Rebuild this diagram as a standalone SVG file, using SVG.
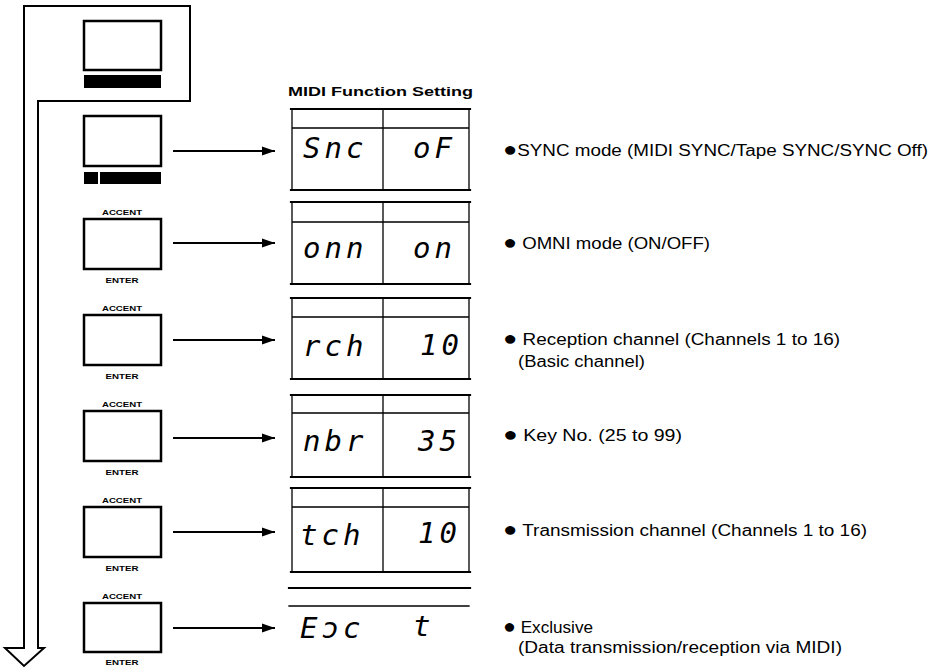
<svg xmlns="http://www.w3.org/2000/svg" width="937" height="668" viewBox="0 0 937 668">
<style>
.ln{fill:none;stroke:#000;stroke-linecap:square}
.key{fill:#fff;stroke:#000;stroke-width:2.5}
.bar{fill:#000}
.lbl{font-family:"Liberation Sans",Arial,sans-serif;font-weight:bold;font-size:7.5px;fill:#000}
.seg{font-family:"DejaVu Sans Mono",monospace;font-style:oblique;font-size:29px;letter-spacing:4px;fill:#000}
.desc{font-family:"Liberation Sans",Arial,sans-serif;font-size:16px;fill:#000}
.bul{font-size:20px}
.title{font-family:"Liberation Sans",Arial,sans-serif;font-weight:bold;font-size:13px;fill:#000}
.thick{stroke-width:2.2}
.thin{stroke-width:1.3}
.arr{fill:none;stroke:#000;stroke-width:2}
</style>
<defs>
<marker id="ah" markerUnits="userSpaceOnUse" markerWidth="14" markerHeight="10" refX="13" refY="5" orient="auto">
<path d="M0,0.5 L13,5 L0,9.5 Z" fill="#000"/>
</marker>
</defs>
<rect width="937" height="668" fill="#fff"/>

<g id="flow">
<path d="M24,648 L24,6 L190,6 L190,101 L38,101 L38,648 L44,648 L24,666 L5,648 Z" fill="#fff" stroke="#000" stroke-width="2" stroke-linejoin="miter"/>
</g>

<g id="key1">
<rect class="key" x="84" y="21" width="77" height="49"/>
<rect class="bar" x="84" y="75" width="77" height="13"/>
</g>
<g id="key2">
<rect class="key" x="84" y="116" width="77" height="50"/>
<rect class="bar" x="84" y="172" width="14" height="12"/>
<rect class="bar" x="100" y="172" width="61" height="12"/>
</g>
<g id="key3" transform="translate(0,219)">
<text class="lbl" x="122" y="-4" text-anchor="middle" textLength="40" lengthAdjust="spacingAndGlyphs">ACCENT</text>
<rect class="key" x="84" y="0" width="77" height="50"/>
<text class="lbl" x="122" y="64" text-anchor="middle" textLength="33" lengthAdjust="spacingAndGlyphs">ENTER</text>
</g>
<g id="key4" transform="translate(0,315)">
<text class="lbl" x="122" y="-4" text-anchor="middle" textLength="40" lengthAdjust="spacingAndGlyphs">ACCENT</text>
<rect class="key" x="84" y="0" width="77" height="50"/>
<text class="lbl" x="122" y="64" text-anchor="middle" textLength="33" lengthAdjust="spacingAndGlyphs">ENTER</text>
</g>
<g id="key5" transform="translate(0,411)">
<text class="lbl" x="122" y="-4" text-anchor="middle" textLength="40" lengthAdjust="spacingAndGlyphs">ACCENT</text>
<rect class="key" x="84" y="0" width="77" height="50"/>
<text class="lbl" x="122" y="64" text-anchor="middle" textLength="33" lengthAdjust="spacingAndGlyphs">ENTER</text>
</g>
<g id="key6" transform="translate(0,507)">
<text class="lbl" x="122" y="-4" text-anchor="middle" textLength="40" lengthAdjust="spacingAndGlyphs">ACCENT</text>
<rect class="key" x="84" y="0" width="77" height="50"/>
<text class="lbl" x="122" y="64" text-anchor="middle" textLength="33" lengthAdjust="spacingAndGlyphs">ENTER</text>
</g>
<g id="key7" transform="translate(0,603)">
<text class="lbl" x="122" y="-4" text-anchor="middle" textLength="40" lengthAdjust="spacingAndGlyphs">ACCENT</text>
<rect class="key" x="84" y="0" width="77" height="49"/>
<text class="lbl" x="122" y="62" text-anchor="middle" textLength="33" lengthAdjust="spacingAndGlyphs">ENTER</text>
</g>

<g id="title">
<text class="title" x="288" y="96" textLength="185" lengthAdjust="spacingAndGlyphs">MIDI Function Setting</text>
</g>

<g id="disp1" transform="translate(0,109)">
<path class="ln thick" d="M291,0 H470 M291,81 H470"/>
<path class="ln thin" d="M292,19 H469 M292,0 V81 M383,0 V81 M469,0 V81"/>
<text class="seg" x="303" y="49">Snc</text>
<text class="seg" x="413" y="49">oF</text>
</g>
<g id="disp2" transform="translate(0,202)">
<path class="ln thick" d="M291,0 H470 M291,82 H470"/>
<path class="ln thin" d="M292,20 H469 M292,0 V82 M383,0 V82 M469,0 V82"/>
<text class="seg" x="303" y="56">onn</text>
<text class="seg" x="413" y="56">on</text>
</g>
<g id="disp3" transform="translate(0,298)">
<path class="ln thick" d="M291,0 H470 M291,81 H470"/>
<path class="ln thin" d="M292,19 H469 M292,0 V81 M383,0 V81 M469,0 V81"/>
<text class="seg" x="303" y="58">rch</text>
<text class="seg" x="420" y="57">10</text>
</g>
<g id="disp4" transform="translate(0,395)">
<path class="ln thick" d="M291,0 H470 M291,82 H470"/>
<path class="ln thin" d="M292,18 H469 M292,0 V82 M383,0 V82 M469,0 V82"/>
<text class="seg" x="303" y="56">nbr</text>
<text class="seg" x="418" y="56">35</text>
</g>
<g id="disp5" transform="translate(0,488)">
<path class="ln thick" d="M291,0 H470 M291,84 H470"/>
<path class="ln thin" d="M292,19 H469 M292,0 V84 M383,0 V84 M469,0 V84"/>
<text class="seg" x="300" y="57">tch</text>
<text class="seg" x="418" y="55">10</text>
</g>
<g id="disp6" transform="translate(0,588)">
<path class="ln thick" d="M289,0 H470"/>
<path class="ln thin" d="M289,18 H469"/>
<text class="seg" x="300" y="50">Eɔc</text>
<text class="seg" x="413" y="48">t</text>
</g>

<g id="descriptions">
<text class="desc" x="503" y="156" textLength="425" lengthAdjust="spacingAndGlyphs"><tspan class="bul">●</tspan>SYNC mode (MIDI SYNC/Tape SYNC/SYNC Off)</text>
<text class="desc" x="503" y="249" textLength="207" lengthAdjust="spacingAndGlyphs"><tspan class="bul">●</tspan> OMNI mode (ON/OFF)</text>
<text class="desc" x="503" y="345" textLength="337" lengthAdjust="spacingAndGlyphs"><tspan class="bul">●</tspan> Reception channel (Channels 1 to 16)</text>
<text class="desc" x="518" y="367" textLength="127" lengthAdjust="spacingAndGlyphs">(Basic channel)</text>
<text class="desc" x="503" y="441" textLength="179" lengthAdjust="spacingAndGlyphs"><tspan class="bul">●</tspan> Key No. (25 to 99)</text>
<text class="desc" x="503" y="536" textLength="364" lengthAdjust="spacingAndGlyphs"><tspan class="bul">●</tspan> Transmission channel (Channels 1 to 16)</text>
<text class="desc" x="503" y="633" textLength="90" lengthAdjust="spacingAndGlyphs"><tspan class="bul">●</tspan> Exclusive</text>
<text class="desc" x="518" y="653" textLength="324" lengthAdjust="spacingAndGlyphs">(Data transmission/reception via MIDI)</text>
</g>

<g id="connectors">
<path class="arr" d="M173,151 H275" marker-end="url(#ah)"/>
<path class="arr" d="M173,243 H275" marker-end="url(#ah)"/>
<path class="arr" d="M173,340 H275" marker-end="url(#ah)"/>
<path class="arr" d="M173,438 H275" marker-end="url(#ah)"/>
<path class="arr" d="M173,532 H275" marker-end="url(#ah)"/>
<path class="arr" d="M173,628 H275" marker-end="url(#ah)"/>
</g>
</svg>
